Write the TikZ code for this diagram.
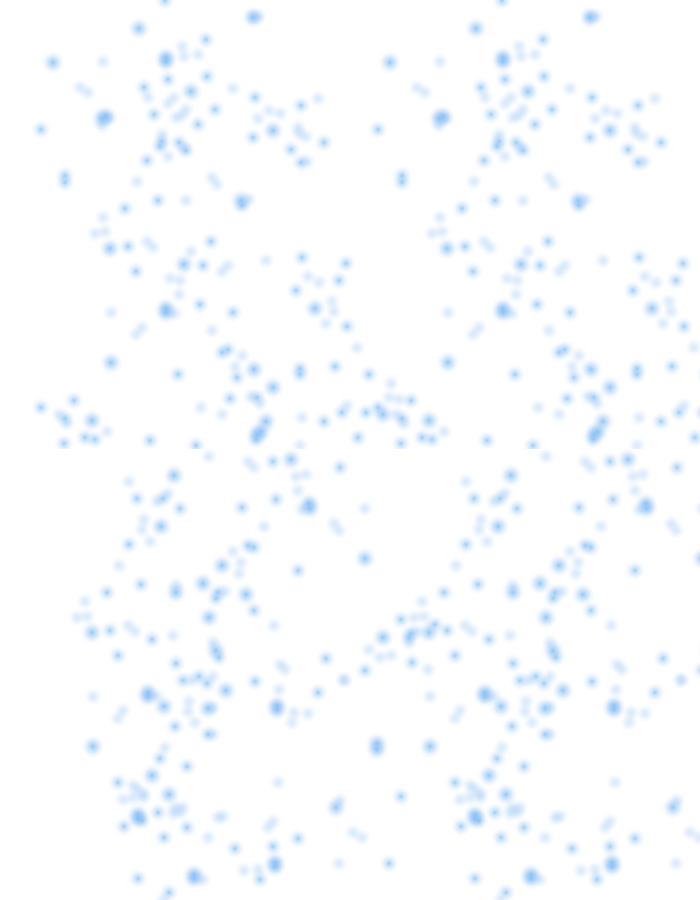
\documentclass[tikz,border=0pt]{standalone}
\usetikzlibrary{fadings}
\definecolor{halo}{HTML}{86BAF4}
\definecolor{corec}{HTML}{5CCBFF}
\pgfdeclareradialshading{shA}{\pgfpointorigin}{color(0bp)=(pgftransparent!70); color(6bp)=(pgftransparent!74); color(12bp)=(pgftransparent!84); color(18bp)=(pgftransparent!94); color(25bp)=(pgftransparent!100); color(50bp)=(pgftransparent!100)}
\pgfdeclareradialshading{shB}{\pgfpointorigin}{color(0bp)=(pgftransparent!52); color(6bp)=(pgftransparent!58); color(12bp)=(pgftransparent!76); color(18bp)=(pgftransparent!92); color(25bp)=(pgftransparent!100); color(50bp)=(pgftransparent!100)}
\pgfdeclareradialshading{shC}{\pgfpointorigin}{color(0bp)=(pgftransparent!40); color(6bp)=(pgftransparent!47); color(12bp)=(pgftransparent!68); color(18bp)=(pgftransparent!90); color(25bp)=(pgftransparent!100); color(50bp)=(pgftransparent!100)}
\pgfdeclareradialshading{shK}{\pgfpointorigin}{color(0bp)=(pgftransparent!50); color(12bp)=(pgftransparent!80); color(25bp)=(pgftransparent!100); color(50bp)=(pgftransparent!100)}
\pgfdeclarefading{fadeA}{\pgfuseshading{shA}}
\pgfdeclarefading{fadeB}{\pgfuseshading{shB}}
\pgfdeclarefading{fadeC}{\pgfuseshading{shC}}
\pgfdeclarefading{fadeK}{\pgfuseshading{shK}}
\tikzset{haloA/.style={fill=halo,draw=none,path fading=fadeA},
 haloB/.style={fill=halo,draw=none,path fading=fadeB},
 haloC/.style={fill=halo,draw=none,path fading=fadeC},
 coreK/.style={fill=corec,draw=none,path fading=fadeK}}
\newcommand\blobF[1]{\fill[haloA] (#1) circle (9pt);}
\newcommand\blobM[1]{\fill[haloB] (#1) circle (10pt);\fill[coreK] (#1) circle (3pt);}
\newcommand\blobS[1]{\fill[haloC] (#1) circle (11.5pt);\fill[coreK] (#1) circle (3.2pt);}
% ---- upper tile
\def\topF{253/16,259/16,182/46,184/56,198/54,103/61,148/97,80/87,88/92,233/88,174/97,168/103,186/109,182/115,176/117,269/110,280/113,318/98,258/118,109/118,102/125,298/127,299/133,306/136,162/134,184/147,168/156,307/161,137/181,212/177,217/184,186/200,249/199,103/217,95/233,105/231,147/241,153/247,191/251,228/265,222/271,266/260,170/278,180/280,308/276,319/282,179/294,332/301,334/311,175/313,111/312,326/323,142/327,136/334,212/330,242/355,235/366,59/414,67/423,251/396,260/403,201/407,222/414,302/417,107/431,300/445,391/383,389/397,399/399,347/405,357/347}
\def\topM{165/0,206/39,168/79,207/76,144/87,255/97,301/105,215/109,154/114,198/124,41/129,253/137,162/141,160/146,179/142,186/150,324/142,291/149,147/160,301/162,65/175,65/182,158/200,242/205,125/208,128/246,211/241,203/265,302/257,136/271,339/280,296/290,200/304,233/312,347/326,222/352,228/349,178/374,237/377,300/368,300/374,335/366,74/400,41/407,65/418,230/398,257/397,324/421,85/437,95/439,150/440,256/439,196/445,64/443,369/374,342/412,366/412,358/437,346/263}
\def\topS{139/28,253/17,166/57,166/61,53/62,191/91,102/118,106/116,273/130,241/200,110/248,184/264,315/308,166/308,166/312,111/362,254/369,273/387,92/420,266/421,257/434,261/431,383/414}
% ---- lower tile
\def\botF{209/456,248/461,254/467,129/481,296/476,306/474,298/490,168/493,157/501,302/509,334/523,339/530,144/519,142/529,264/526,150/541,233/551,241/562,239/573,119/565,176/585,225/591,85/601,87/616,77/617,128/625,135/631,173/635,274/625,213/642,280/664,285/669,93/696,157/696,192/680,213/676,279/689,344/680,189/701,188/711,213/707,294/712,308/713,292/722,123/710,118/718,195/722,213/734,165/747,278/782,133/785,138/789,144/793,143/797,123/799,133/797,340/800,173/813,175/807,183/807,180/812,223/816,218/817,273/821,268/827,208/837,339/863,244/870,258/869,203/879,163/900,365/508,369/649,344/679,380/657,391/655,428/669,409/642,417/631,353/832,362/837}
\def\botM{273/461,340/467,137/498,163/498,180/508,276/499,242/507,129/544,248/545,254/547,298/570,141/584,218/592,216/598,107/592,254/610,110/630,152/639,219/657,118/655,176/663,326/658,183/680,199/676,207/683,255/681,318/692,208/734,160/758,187/766,118/782,158/812,142/820,124/826,187/827,164/837,298/838,273/846,235/848,260/879,138/878,169/892,175/726,365/670,412/662,409/637,411/633,435/624,401/619,401/796,389/863}
\def\botS{291/459,174/475,309/503,310/508,161/526,222/565,176/592,203/583,246/594,209/617,92/632,216/650,148/692,148/696,226/690,164/706,208/708,277/705,277/709,93/746,152/775,169/794,336/807,138/814,138/818,275/862,275/866,194/874,194/878,365/558,383/637,377/743,377/749}
\newcommand\drawset[3]{\foreach \p/\q in #1 {\blobF{\p,\q}}\foreach \p/\q in #2 {\blobM{\p,\q}}\foreach \p/\q in #3 {\blobS{\p,\q}}}
\begin{document}
\begin{tikzpicture}[x=1pt,y=-1pt]
\useasboundingbox (0,0) rectangle (700,900);
\fill[white] (0,0) rectangle (700,900);
\begin{scope}[xshift=-0.5pt]
\clip (0,0) rectangle (700.5,448);
\drawset{\topF}{\topM}{\topS}
\begin{scope}[shift={(337,0)}]
\drawset{\topF}{\topM}{\topS}
\end{scope}
\end{scope}
\begin{scope}[xshift=-0.5pt]
\clip (0,448) rectangle (700.5,900);
\drawset{\botF}{\botM}{\botS}
\begin{scope}[shift={(337,0)}]
\drawset{\botF}{\botM}{\botS}
\end{scope}
\end{scope}
\end{tikzpicture}
\end{document}
